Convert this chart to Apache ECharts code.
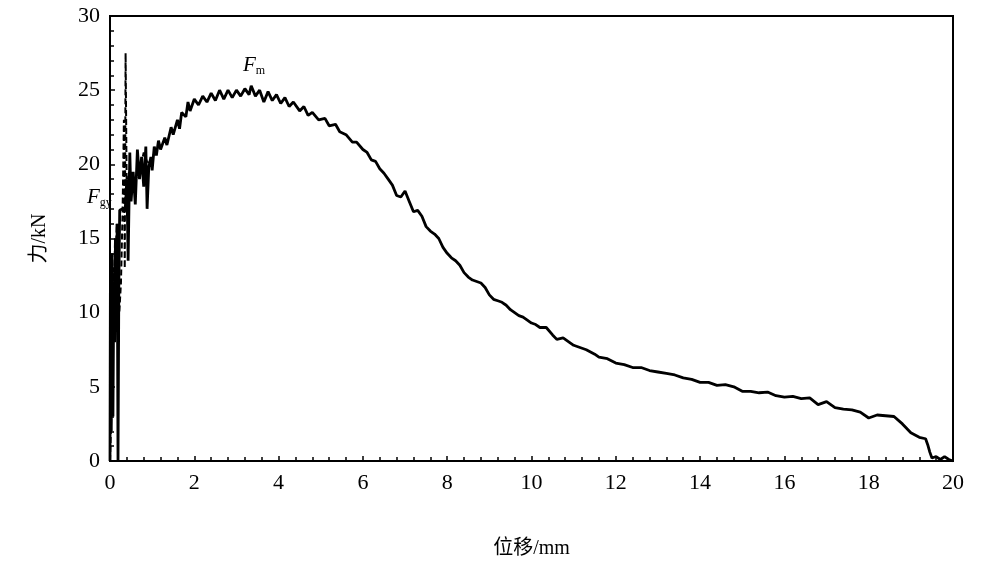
<!DOCTYPE html>
<html>
<head>
<meta charset="utf-8">
<script src="https://cdn.jsdelivr.net/npm/echarts@6/dist/echarts.min.js"></script>
<style>
html, body { margin: 0; padding: 0; background: #fff; }
#chart { width: 981px; height: 567px; }
</style>
</head>
<body>
<div id="chart"></div>
<script>
// 实线：位移(mm) / 力(kN)
const dispSolid = [
  0, 0.01, 0.03, 0.05, 0.07, 0.09, 0.11, 0.13, 0.15, 0.17, 0.19, 0.2, 0.21, 0.23, 0.3, 0.36,
  0.4, 0.43, 0.47, 0.5, 0.55, 0.6, 0.65, 0.7, 0.75, 0.8, 0.85, 0.88, 0.92, 0.97,
  1.0, 1.05, 1.1, 1.15, 1.2, 1.3, 1.35, 1.45, 1.5, 1.6, 1.65, 1.7, 1.8, 1.85, 1.9,
  2.0, 2.1, 2.2, 2.3, 2.4, 2.5, 2.6, 2.7, 2.8, 2.9, 3.0, 3.1, 3.2, 3.3, 3.35, 3.45,
  3.55, 3.65, 3.75, 3.85, 3.95, 4.05, 4.15, 4.25, 4.35, 4.5, 4.6, 4.7, 4.8, 4.95,
  5.1, 5.2, 5.35, 5.45, 5.6, 5.75, 5.85, 6.0, 6.1, 6.2, 6.3, 6.4, 6.5, 6.6, 6.7,
  6.8, 6.9, 7.0, 7.1, 7.2, 7.3, 7.4, 7.5, 7.6, 7.7, 7.8, 7.9, 8.0, 8.1, 8.2, 8.3,
  8.4, 8.5, 8.6, 8.7, 8.8, 8.9, 9.0, 9.1, 9.2, 9.3, 9.4, 9.5, 9.6, 9.7, 9.8, 9.9,
  10.0, 10.1, 10.2, 10.35, 10.5, 10.6, 10.75, 10.9, 11.0, 11.1, 11.2, 11.3, 11.5,
  11.6, 11.8, 12.0, 12.2, 12.4, 12.6, 12.8, 13.0, 13.2, 13.4, 13.6, 13.8, 14.0,
  14.2, 14.4, 14.6, 14.8, 15.0, 15.2, 15.4, 15.6, 15.8, 16.0, 16.2, 16.4, 16.6,
  16.8, 17.0, 17.2, 17.4, 17.6, 17.8, 18.0, 18.2, 18.4, 18.6, 18.8, 19.0, 19.2,
  19.35, 19.4, 19.45, 19.5, 19.6, 19.7, 19.8, 19.9, 20.0
]
const forceSolid = [
  0, 13, 2, 14, 3, 12, 8, 15, 10, 16, 0, 0, 12, 16.9, 17, 16.9,
  19, 13.5, 20.8, 17.5, 19.5, 17.3, 21, 19, 20.5, 18.5, 21.2, 17, 19.8, 20.5,
  19.6, 21.2, 20.6, 21.6, 21, 21.8, 21.3, 22.5, 22, 23, 22.4, 23.5, 23.2, 24.2, 23.6,
  24.4, 24, 24.6, 24.2, 24.8, 24.3, 25, 24.4, 25, 24.5, 25, 24.6, 25.1, 24.7, 25.3, 24.6,
  25, 24.2, 24.9, 24.3, 24.7, 24.1, 24.5, 23.9, 24.2, 23.6, 23.9, 23.3, 23.5, 23,
  23.1, 22.6, 22.7, 22.2, 22, 21.5, 21.5, 21, 20.8, 20.3, 20.2, 19.7, 19.4, 19, 18.6,
  17.9, 17.8, 18.2, 17.5, 16.8, 16.9, 16.5, 15.8, 15.5, 15.3, 15, 14.4, 14, 13.7, 13.5, 13.2,
  12.7, 12.4, 12.2, 12.1, 12, 11.7, 11.2, 10.9, 10.8, 10.7, 10.5, 10.2, 10, 9.8, 9.7, 9.5,
  9.3, 9.2, 9.0, 9.0, 8.5, 8.2, 8.3, 8, 7.8, 7.7, 7.6, 7.5, 7.2,
  7, 6.9, 6.6, 6.5, 6.3, 6.3, 6.1, 6.0, 5.9, 5.8, 5.6, 5.5, 5.3,
  5.3, 5.1, 5.15, 5.0, 4.7, 4.7, 4.6, 4.65, 4.4, 4.3, 4.35, 4.2, 4.25,
  3.8, 4.0, 3.6, 3.5, 3.45, 3.3, 2.9, 3.1, 3.05, 3.0, 2.5, 1.9, 1.6,
  1.5, 1.1, 0.6, 0.2, 0.3, 0.1, 0.3, 0.1, 0
]
// 虚线：初始段
const dispDashed = [0, 0.03, 0.05, 0.08, 0.1, 0.12, 0.14, 0.16, 0.2, 0.22, 0.26, 0.3, 0.33, 0.35, 0.37, 0.4, 0.45, 0.5, 0.6, 0.7, 0.8, 0.9, 1.0, 1.2]
const forceDashed = [0, 3, 11, 13, 12, 15, 14, 16, 16, 10, 12, 17, 23, 13, 27.5, 17, 19.5, 18, 19, 19.5, 20.8, 20, 20.5, 21.3]

const xTicks = [0, 2, 4, 6, 8, 10, 12, 14, 16, 18, 20]
const yTicks = [0, 5, 10, 15, 20, 25, 30]

const pairs = (xs, ys) => xs.map((x, i) => [x, ys[i]])

const serif = '"Liberation Serif", "DejaVu Serif", serif'
const cjkSerif = '"Liberation Serif", "Noto Sans CJK SC", serif'
const chart = echarts.init(document.getElementById('chart'))

const option = {
  backgroundColor: '#fff',
  animation: false,
  grid: {
    left: 110, right: 28, top: 16, bottom: 106,
    show: true, borderColor: '#000', borderWidth: 2
  },
  xAxis: {
    type: 'value',
    min: xTicks[0], max: xTicks[xTicks.length - 1], interval: 2,
    name: '位移/mm', nameLocation: 'middle', nameGap: 78,
    nameTextStyle: { color: '#000', fontSize: 20, fontFamily: cjkSerif },
    axisLine: { lineStyle: { color: '#000', width: 2 } },
    axisTick: { inside: true, length: 5, lineStyle: { color: '#000', width: 1.5 } },
    minorTick: { show: true, splitNumber: 5, length: 4, lineStyle: { color: '#000', width: 1.5 } },
    axisLabel: { color: '#000', fontSize: 22, fontFamily: serif, margin: 11 },
    splitLine: { show: false }
  },
  yAxis: {
    type: 'value',
    min: yTicks[0], max: yTicks[yTicks.length - 1], interval: 5,
    name: '力/kN', nameLocation: 'middle', nameGap: 60,
    nameTextStyle: { color: '#000', fontSize: 20, fontFamily: cjkSerif },
    axisLine: { lineStyle: { color: '#000', width: 2 } },
    axisTick: { inside: true, length: 5, lineStyle: { color: '#000', width: 1.5 } },
    minorTick: { show: true, splitNumber: 5, length: 4, lineStyle: { color: '#000', width: 1.5 } },
    axisLabel: { color: '#000', fontSize: 22, fontFamily: serif, margin: 10 },
    splitLine: { show: false }
  },
  series: [
    {
      type: 'line',
      data: pairs(dispDashed, forceDashed),
      symbol: 'none',
      lineStyle: { color: '#000', width: 2, type: [6, 3] },
      z: 3
    },
    {
      type: 'line',
      data: pairs(dispSolid, forceSolid),
      symbol: 'none',
      lineStyle: { color: '#000', width: 2.8 },
      z: 4
    }
  ],
  graphic: [
    {
      type: 'text', left: 87, top: 187,
      style: {
        text: '{f|F}{s|gy}',
        rich: {
          f: { fontSize: 21, fontStyle: 'italic', fontFamily: serif, fill: '#000' },
          s: { fontSize: 12, fontFamily: serif, fill: '#000', padding: [10, 0, 0, 0] }
        }
      }
    },
    {
      type: 'text', left: 243, top: 55,
      style: {
        text: '{f|F}{s|m}',
        rich: {
          f: { fontSize: 21, fontStyle: 'italic', fontFamily: serif, fill: '#000' },
          s: { fontSize: 12, fontFamily: serif, fill: '#000', padding: [10, 0, 0, 0] }
        }
      }
    }
  ]
}
chart.setOption(option)
</script>
</body>
</html>
